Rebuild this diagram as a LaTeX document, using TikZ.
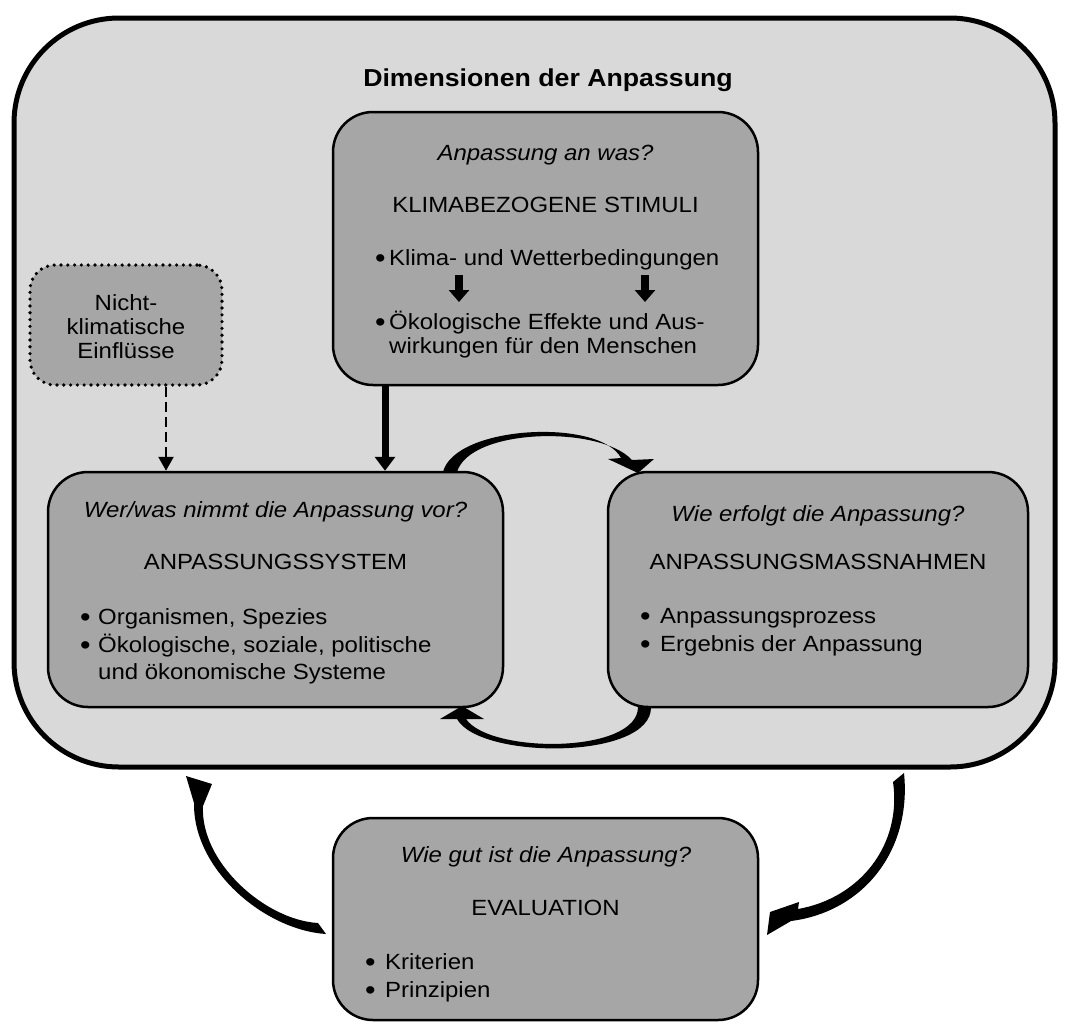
\documentclass[tikz,border=0pt]{standalone}
\usepackage{fontspec}
\setmainfont{Liberation Sans}[FakeStretch=1.09]
\usetikzlibrary{arrows.meta}
\definecolor{panelgray}{gray}{0.85}
\definecolor{boxgray}{gray}{0.65}
\newcommand{\boxfont}{\fontsize{22}{26}\selectfont}
\newcommand{\bul}[1]{\makebox[#1][l]{\raisebox{-2.5pt}{\scalebox{1.25}{\textbullet}}}}
\tikzset{
  dimbox/.style={rectangle, rounded corners=40pt, draw=black, line width=2.5pt, fill=boxgray, inner sep=0pt},
  bigarrow/.style={-{Triangle[width=20pt,length=14pt]}, line width=7pt},
  smallarrow/.style={-{Triangle[width=20pt,length=12pt]}, line width=7.5pt},
  dasharrow/.style={-{Triangle[width=15pt,length=14pt]}, line width=2.5pt, dash pattern=on 10pt off 5pt},
}
\begin{document}
\begin{tikzpicture}[x=1pt, y=-1pt,
    ask/.style={anchor=base, inner sep=0pt, font=\boxfont\itshape},
    heading/.style={anchor=base, inner sep=0pt, font=\boxfont},
    entry/.style={anchor=base west, inner sep=0pt, font=\boxfont}
]
\useasboundingbox (0,0) rectangle (1067,1023);

% Outer panel
\node[rectangle, rounded corners=105pt, draw, line width=5pt, fill=panelgray,
      minimum width=1041pt, minimum height=749pt, inner sep=0pt] (panel) at (534.5,392.5) {};
\node[anchor=base, font=\fontsize{24.5}{29}\selectfont\bfseries] (title) at (548,86) {Dimensionen der Anpassung};

% Boxes
\node[dimbox, minimum width=425pt, minimum height=273pt] (stim) at (545.5,248.5) {};
\node[dimbox, minimum width=455pt, minimum height=235pt] (sys) at (275.5,589.5) {};
\node[dimbox, minimum width=420pt, minimum height=235pt] (act) at (818,589.5) {};
\node[dimbox, minimum width=425pt, minimum height=202pt] (eval) at (545.5,919) {};
\node[dimbox, rounded corners=25pt, line width=3.6pt, line cap=round, dash pattern=on 0pt off 6.8pt,
      minimum width=192pt, minimum height=120pt] (nonclim) at (126,325) {};

% Stimuli
\node[ask] at (545.5,160) {Anpassung an was?};
\node[heading] at (545.5,212) {KLIMABEZOGENE STIMULI};
\node[entry] at (375,265) {\bul{14pt}Klima- und Wetterbedingungen};
\node[entry] at (375,329) {\bul{14pt}Ökologische Effekte und Aus-};
\node[entry] at (389,353.5) {wirkungen für den Menschen};

% System
\node[ask] at (275.5,517) {Wer/was nimmt die Anpassung vor?};
\node[heading] at (275.5,569) {ANPASSUNGSSYSTEM};
\node[entry] at (80,624) {\bul{18pt}Organismen, Spezies};
\node[entry] at (80,652) {\bul{18pt}Ökologische, soziale, politische};
\node[entry] at (98,679) {und ökonomische Systeme};

% Massnahmen
\node[ask] at (818,521) {Wie erfolgt die Anpassung?};
\node[heading] at (818,569) {ANPASSUNGSMASSNAHMEN};
\node[entry] at (640,623) {\bul{20pt}Anpassungsprozess};
\node[entry] at (640,651) {\bul{20pt}Ergebnis der Anpassung};

% Evaluation
\node[ask] at (546,862) {Wie gut ist die Anpassung?};
\node[heading] at (545.5,915) {EVALUATION};
\node[entry] at (365,969) {\bul{20pt}Kriterien};
\node[entry] at (365,997) {\bul{20pt}Prinzipien};

% Non-climatic
\node[heading] at (126,310) {Nicht-};
\node[heading] at (126,334) {klimatische};
\node[heading] at (126,358) {Einflüsse};

% Straight arrows
\draw[bigarrow] ([xshift=-160.5pt]stim.south) -- ([xshift=-160.5pt]stim.south |- sys.north);
\draw[dasharrow] ([xshift=40pt]nonclim.south) -- ([xshift=40pt]nonclim.south |- sys.north);
\foreach \dx in {-86.5,99.5}
  \draw[smallarrow] ([xshift=\dx pt, yshift=-26.5pt]stim.center) -- ++(0,27);

% Curved arrows
\fill (443,472) .. controls (455,425) and (600,418) .. (621,458) -- (608,459) -- (638,473)
  -- (654,459) -- (632,460) .. controls (600,425) and (470,428) .. (457,472) -- cycle;
\fill (651,707) .. controls (652,760) and (480,760) .. (457,719) -- (440,719) -- (462,706)
  -- (484,719) -- (466,719) .. controls (490,754) and (638,754) .. (638,707) -- cycle;
\fill (318,923) -- (326,934) .. controls (265,930) and (193,870) .. (194,803) -- (186,776)
  -- (212,784) -- (203,806) .. controls (200,862) and (265,920) .. (318,923) -- cycle;
\fill (904,773) -- (893,782) .. controls (902,845) and (860,898) .. (798,909) -- (799,902)
  -- (770,912) -- (767,935) -- (791,921) .. controls (862,912) and (912,852) .. (904,773) -- cycle;
\end{tikzpicture}
\end{document}
